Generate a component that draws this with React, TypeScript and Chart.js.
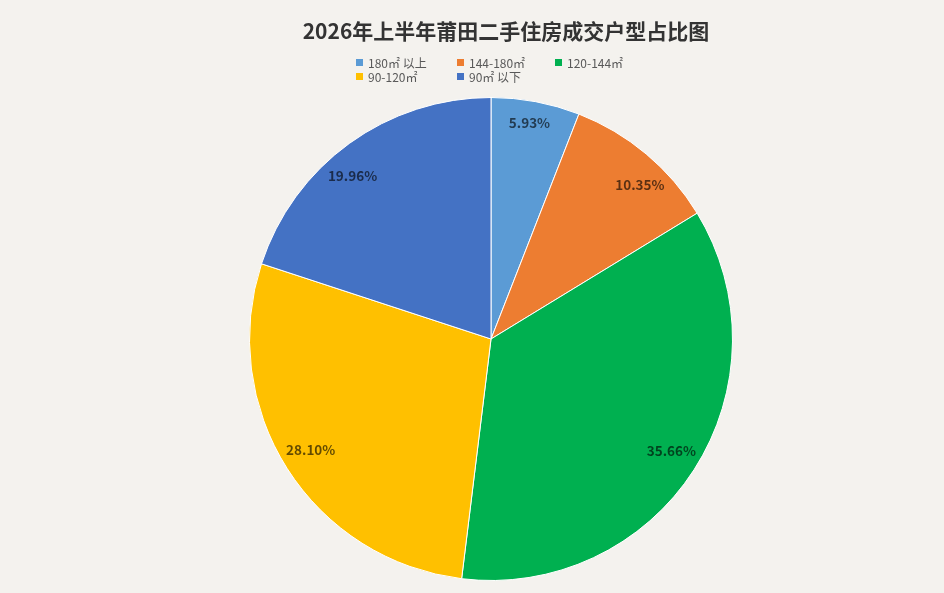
import React, { useEffect, useRef } from "react";
import { Chart, registerables } from "chart.js";

Chart.register(...registerables);

const titleText = "2026年上半年莆田二手住房成交户型占比图";
const categories = ["180㎡ 以上", "144-180㎡", "120-144㎡", "90-120㎡", "90㎡ 以下"];
const shares = [5.93, 10.35, 35.66, 28.1, 19.96];
const colors = ["#5b9bd5", "#ed7d31", "#00b050", "#ffc000", "#4472c4"];

const FONT = '"Noto Sans CJK SC", "Noto Sans", sans-serif';

// label placement tweaks (best-fit style, inside end)
const labelRadiusFactor = [0.911, 0.886, 0.878, 0.876, 0.886];
const labelAngleNudgeDeg = [-0.6, 4.1, -1.1, 0.9, -4.4];

const overlayPlugin = {
  id: "overlay",
  afterDraw(chart: any) {
    const ctx = chart.ctx;
    ctx.save();
    // title
    ctx.fillStyle = "#333333";
    ctx.font = `bold 21px ${FONT}`;
    ctx.textAlign = "center";
    ctx.textBaseline = "middle";
    ctx.fillText(titleText, 506, 31);

    // legend (3 per row)
    const colX = [356, 457, 555];
    const rowY = [63, 77];
    ctx.font = `12px ${FONT}`;
    ctx.textAlign = "left";
    categories.forEach((c, i) => {
      const x = colX[i % 3];
      const y = rowY[Math.floor(i / 3)];
      ctx.fillStyle = colors[i];
      ctx.fillRect(x, y - 4, 7, 7);
      ctx.fillStyle = "#595959";
      ctx.fillText(c, x + 12, y);
    });

    // data labels
    const meta = chart.getDatasetMeta(0);
    ctx.font = `bold 13.5px ${FONT}`;
    ctx.textAlign = "center";
    ctx.fillStyle = "rgba(0,0,0,0.62)";
    meta.data.forEach((arc: any, i: number) => {
      const p = arc.getProps(["x", "y", "startAngle", "endAngle", "outerRadius"], true);
      const mid = (p.startAngle + p.endAngle) / 2 + (labelAngleNudgeDeg[i] * Math.PI) / 180;
      const r = p.outerRadius * labelRadiusFactor[i];
      const lx = p.x + Math.cos(mid) * r;
      const ly = p.y + Math.sin(mid) * r;
      ctx.fillText(shares[i].toFixed(2) + "%", lx, ly);
    });
    ctx.restore();
  },
};

export default function App() {
  const ref = useRef<HTMLCanvasElement | null>(null);
  useEffect(() => {
    if (!ref.current) return;
    const chart = new Chart(ref.current, {
      type: "pie",
      data: {
        labels: categories,
        datasets: [
          {
            data: shares,
            backgroundColor: colors,
            borderColor: "#ffffff",
            borderWidth: 1,
          },
        ],
      },
      options: {
        animation: false,
        responsive: false,
        maintainAspectRatio: false,
        layout: { padding: { top: 97, bottom: 12, left: 249, right: 211 } },
        plugins: {
          legend: { display: false },
          title: { display: false },
          tooltip: { enabled: false },
        },
      },
      plugins: [overlayPlugin],
    });
    return () => chart.destroy();
  }, []);
  return (
    <div
      style={{
        position: "fixed",
        left: 0,
        top: 0,
        width: 944,
        height: 593,
        background: "#f4f2ee",
      }}
    >
      <canvas ref={ref} width={944} height={593} style={{ width: 944, height: 593 }} />
    </div>
  );
}
